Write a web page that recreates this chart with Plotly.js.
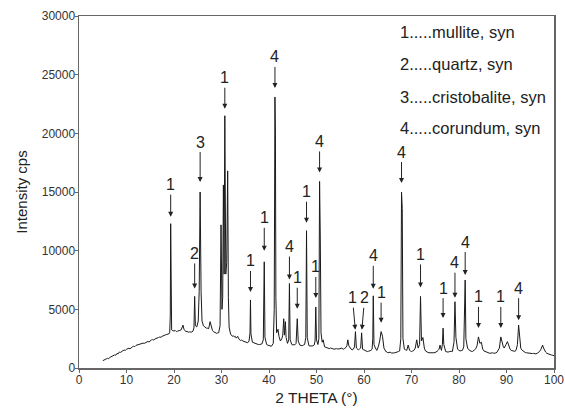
<!DOCTYPE html>
<html>
<head>
<meta charset="utf-8">
<script src="https://cdn.plot.ly/plotly-3.0.1.min.js"></script>
<style>html,body{margin:0;padding:0;background:#fff}#chart{width:565px;height:408px}</style>
</head>
<body>
<div id="chart"></div>
<script>
const twoTheta = [
  5.0,5.25,5.5,5.75,6.0,6.25,6.5,6.75,7.0,7.25,7.5,7.75,8.0,8.25,8.5,8.75,9.0,9.25,9.5,9.75,
  10.0,10.25,10.5,10.75,11.0,11.25,11.5,11.75,12.0,12.25,12.5,12.75,13.0,13.25,13.5,13.75,14.0,14.25,14.5,14.75,
  15.0,15.25,15.5,15.75,16.0,16.25,16.5,16.75,17.0,17.25,17.5,17.75,18.0,18.25,18.5,18.75,19.0,
  19.1,19.22,19.3,19.38,19.5,19.75,20.0,20.25,20.5,20.75,21.0,21.25,21.5,21.7,21.9,22.1,22.3,22.5,22.75,23.0,23.25,23.5,23.75,24.0,
  24.2,24.35,24.5,24.8,25.1,25.3,25.5,25.7,25.9,26.2,26.4,26.6,26.8,27.0,27.3,27.6,27.9,28.1,28.3,28.5,28.7,29.0,29.2,29.4,29.7,
  29.9,30.1,30.25,30.4,30.55,30.7,30.9,31.1,31.3,31.45,31.6,31.9,32.1,32.3,32.5,32.7,32.9,33.1,33.4,33.7,34.0,34.25,34.5,34.75,35.0,35.25,35.5,35.8,
  36.0,36.1,36.2,36.5,36.75,37.0,37.25,37.5,37.75,38.0,38.25,38.5,38.8,39.0,39.15,39.5,39.75,40.0,40.25,40.5,40.9,
  41.1,41.25,41.35,41.45,41.6,41.9,42.1,42.4,42.7,42.9,43.1,43.25,43.45,43.6,43.9,44.15,44.3,44.45,44.8,45.0,45.2,45.45,45.7,
  45.95,46.15,46.5,46.75,47.0,47.25,47.5,47.75,47.9,48.05,48.4,48.65,48.9,49.1,49.3,49.5,49.7,49.85,50.0,50.3,50.5,
  50.65,50.8,50.95,51.2,51.4,51.7,51.95,52.2,52.45,52.7,52.95,53.2,53.45,53.7,53.95,54.2,54.45,54.7,54.95,55.2,55.45,55.7,55.95,56.2,56.4,56.6,56.8,57.0,57.25,57.5,57.75,
  58.0,58.2,58.4,58.6,58.8,59.05,59.3,59.5,59.7,59.95,60.2,60.45,60.7,60.95,61.2,61.45,61.7,61.85,61.95,62.1,62.4,62.7,63.0,63.3,63.6,63.9,64.2,64.4,64.6,64.8,65.0,65.25,65.5,65.75,66.0,66.25,66.5,66.75,67.0,67.25,67.5,
  67.75,67.9,68.05,68.2,68.5,68.75,69.0,69.3,69.6,69.8,70.0,70.25,70.5,70.8,71.1,71.4,71.7,71.9,72.1,72.4,72.7,72.95,73.2,73.45,73.7,73.95,74.2,74.45,74.7,74.95,75.2,75.4,75.6,75.8,76.0,76.3,76.5,76.65,76.8,77.0,77.2,77.45,77.7,77.95,78.2,78.4,78.6,78.95,
  79.15,79.35,79.7,79.95,80.2,80.45,80.7,81.0,81.15,81.3,81.45,81.8,82.05,82.3,82.55,82.8,83.05,83.3,83.55,83.8,84.1,84.4,84.7,85.0,85.25,85.5,85.75,86.0,86.25,86.5,86.75,87.0,87.25,87.5,87.75,88.0,88.25,88.5,88.8,89.1,89.3,89.5,89.7,89.9,90.2,90.5,90.75,91.0,91.25,91.5,91.75,92.0,92.3,92.55,92.8,93.0,93.2,93.45,93.7,93.95,94.2,94.45,94.7,94.95,95.2,95.45,95.7,95.95,96.2,96.45,96.7,96.95,97.2,97.4,97.6,97.8,98.0,98.25,98.5,98.75,99.0,99.25,99.5,99.75,100.0
];
const intensity = [
  620,690,700,780,820,800,900,960,1010,1060,1120,1090,1240,1210,1360,1330,1440,1480,1530,1500,
  1600,1660,1680,1640,1760,1800,1850,1820,1930,1960,1980,2050,2030,2080,2120,2100,2180,2240,2260,2220,
  2340,2390,2420,2380,2480,2540,2560,2600,2640,2620,2700,2760,2780,2830,2860,2900,2930,
  3050,4500,12300,4200,3250,3180,3150,3200,3100,3140,3150,3210,3250,3400,3650,3300,3200,3100,3120,3050,3080,3100,3060,3150,
  3400,6100,3600,3500,4000,6500,15000,6500,4000,3600,3500,3450,3400,3400,3350,3950,3300,3200,3100,3050,3000,2950,2990,3000,3600,
  12200,5000,6000,15600,8000,21500,8000,9000,16800,6000,3500,2900,2800,2700,2750,2650,2700,2550,2700,2450,2350,2380,2300,2250,2250,2200,2150,2300,
  3000,5800,2900,2200,2150,2100,2080,2050,2000,2000,2060,2050,2400,9050,2600,2000,1950,1900,1880,1850,2100,
  5000,23100,20100,6000,3000,3300,2700,2300,2500,2800,4200,2800,3950,2600,2100,2400,7200,2400,2000,1980,1950,1980,2100,
  4200,2300,1950,1920,1900,1960,2000,2600,11700,2600,1900,1880,1850,1880,1900,1950,2300,5200,2400,2000,2500,
  15900,11000,3000,2200,2400,1800,1750,1700,1680,1650,1700,1700,1640,1600,1660,1650,1620,1600,1640,1700,1620,1600,1680,1750,1900,2400,1900,1700,1620,1550,1600,
  1800,3100,1700,1600,1550,1620,1700,3000,1600,1550,1500,1450,1400,1430,1450,1500,1600,2500,6150,2000,1700,1500,1800,2300,3100,2700,1700,1500,1400,1380,1300,1320,1350,1280,1250,1280,1300,1320,1350,1400,1450,
  2500,15000,13600,2500,1600,1550,1500,1950,1500,1450,1400,1450,1500,1700,2400,1700,2000,6100,2300,2600,1700,1450,1350,1330,1300,1290,1280,1300,1300,1320,1350,1420,1500,1600,1950,1500,2000,3400,2000,1600,1400,1380,1350,1400,1450,1420,1400,2200,
  5650,2600,1600,1500,1450,1480,1500,1800,4000,7500,2500,1700,1550,1450,1430,1400,1450,1550,1650,1900,2650,2100,2200,1600,1450,1400,1350,1300,1280,1250,1270,1300,1260,1250,1280,1350,1500,1700,2650,2000,1850,1700,1800,2000,2250,1800,1600,1500,1450,1400,1420,1500,2000,3650,2200,1700,1550,1450,1350,1320,1300,1280,1250,1230,1200,1230,1250,1220,1200,1250,1300,1400,1550,1750,1950,1700,1500,1350,1250,1200,1150,1130,1100,1080,1050
];
const xTicks = [0,10,20,30,40,50,60,70,80,90,100];
const yTicks = [0,5000,10000,15000,20000,25000,30000];
// phase labels: text and the 2-theta of the labelled reflection
const peakLabelText = ['1','2','3','1','1','1','4','4','1','1','1','4','1','2','4','1','4','1','1','4','4','1','1','4'];
const peakLabelX = [19.3,24.35,25.5,30.7,36.1,39.0,41.25,44.3,45.95,47.9,49.85,50.65,58.2,59.5,61.95,63.6,67.9,71.9,76.65,79.15,81.3,84.1,88.8,92.55];
const legendLines = ['1.....mullite, syn','2.....quartz, syn','3.....cristobalite, syn','4.....corundum, syn'];

// arrow geometry (px) for each label: [tail x offset, tail y offset, standoff]
const arrowGeom = [[0,-39,7],[0,-43,8],[0,-50,10],[0,-38,7],[0,-39,8],[0,-44,11],[0,-40,9],[0,-37,4],[0,-41,10],[0,-39,8],[0,-40,9],[0,-40,9],
  [-3,-34,2],[3,-35,3],[0,-40,7],[0,-39,9],[0,-40,9],[0,-42,9],[0,-40,10],[0,-39,4],[0,-38,5],[0,-40,9],[0,-40,9],[0,-37,5]];

function peakTop(x0){
  let best = 0;
  for (let i=0;i<twoTheta.length;i++){
    if (Math.abs(twoTheta[i]-x0) <= 0.16 && intensity[i] > best) best = intensity[i];
  }
  return best;
}

const font = 'Arial, "Liberation Sans", sans-serif';
const annotations = [];
peakLabelText.forEach((t,i)=>{
  annotations.push({
    x: peakLabelX[i], y: peakTop(peakLabelX[i]), xref:'x', yref:'y',
    text: t, showarrow: true, ax: arrowGeom[i][0], ay: arrowGeom[i][1], standoff: arrowGeom[i][2],
    arrowhead: 2, arrowsize: 1, arrowwidth: 1, arrowcolor: '#222',
    font: {family: font, size: 16, color: '#222'}
  });
});
const legendY = [0.9545, 0.8636, 0.7699, 0.6818];
legendLines.forEach((t,i)=>{
  annotations.push({
    x: 0.6716, y: legendY[i], xref:'paper', yref:'paper', xanchor:'left', yanchor:'middle',
    text: t, showarrow:false, font:{family: font, size: 16.5, color:'#222'}
  });
});

const trace = {
  x: twoTheta, y: intensity, type:'scatter', mode:'lines',
  line: {color:'#1a1a1a', width:1}, hoverinfo:'skip'
};

const layout = {
  width: 565, height: 408,
  margin: {l:79, r:11, t:16, b:40},
  paper_bgcolor:'#fff', plot_bgcolor:'#fff',
  showlegend:false,
  font: {family: font, color:'#222'},
  xaxis: {
    range:[0,100], tickvals: xTicks, ticktext: xTicks.map(String),
    showgrid:false, zeroline:false, showline:true, mirror:true, linecolor:'#666', linewidth:1.5,
    ticks:'outside', ticklen:3, tickcolor:'#666', ticklabelstandoff:-3,
    tickfont:{family: font, size:12, color:'#333'},
    title:{text:'2 THETA (°)', font:{family: font, size:15.5, color:'#222'}, standoff:6}
  },
  yaxis: {
    range:[0,30000], tickvals: yTicks, ticktext: yTicks.map(String),
    showgrid:false, zeroline:false, showline:true, mirror:true, linecolor:'#666', linewidth:1.5,
    ticks:'outside', ticklen:3, tickcolor:'#666', ticklabelstandoff:-3,
    tickfont:{family: font, size:12, color:'#333'},
    title:{text:'Intensity cps', font:{family: font, size:15, color:'#222'}, standoff:10}
  },
  annotations: annotations
};

Plotly.newPlot('chart', [trace], layout, {staticPlot:true, displayModeBar:false});
</script>
</body>
</html>
